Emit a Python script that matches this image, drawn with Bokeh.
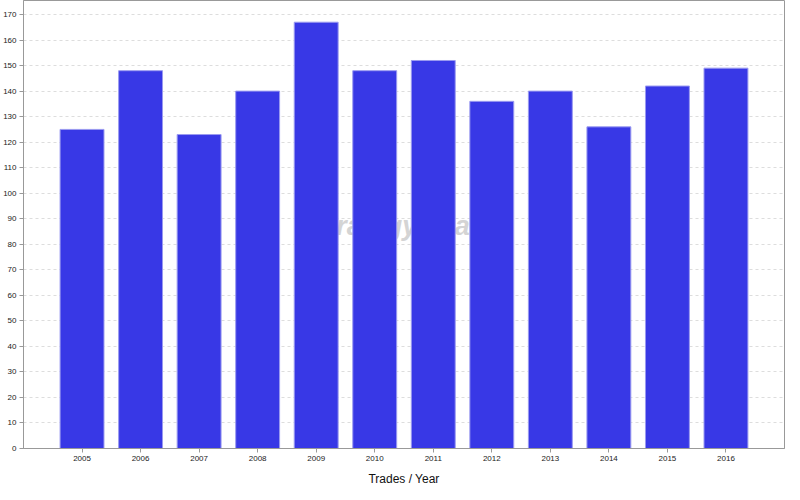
from bokeh.plotting import figure
from bokeh.models import FixedTicker, Range1d, ColumnDataSource, Label
from bokeh.embed import file_html
from bokeh.resources import INLINE

years = ["2005", "2006", "2007", "2008", "2009", "2010", "2011", "2012", "2013", "2014", "2015", "2016"]
trades = [125, 148, 123, 140, 167, 148, 152, 136, 140, 126, 142, 149]
positions = list(range(1, len(years) + 1))
y_ticks = list(range(0, 171, 10))

p = figure(width=785, height=490, output_backend="svg", toolbar_location=None,
           x_range=Range1d(0, len(years) + 1), y_range=Range1d(0, 175.5),
           min_border_left=22, min_border_right=1, min_border_top=0, min_border_bottom=42)

p.add_layout(Label(x=6.47, y=87, text="StrategyQuant", text_font="Liberation Sans",
                   text_font_size="27px", text_font_style="bold italic", text_color="#d4d4d4",
                   text_align="center", text_baseline="middle", level="underlay"))

src = ColumnDataSource(dict(x=positions, top=trades))
p.vbar(x="x", top="top", width=0.75, bottom=0, source=src,
       fill_color="#3838e6", line_color="#9a9af0", line_width=1)

p.xaxis.ticker = FixedTicker(ticks=positions)
p.xaxis.major_label_overrides = {pos: y for pos, y in zip(positions, years)}
p.yaxis.ticker = FixedTicker(ticks=y_ticks)

for ax in (p.xaxis, p.yaxis):
    ax.axis_line_color = "#999999"
    ax.major_tick_line_color = "#999999"
    ax.major_tick_out = 4
    ax.major_tick_in = 0
    ax.minor_tick_line_color = None
    ax.major_label_text_font = "Liberation Sans"
    ax.major_label_text_font_size = "8px"
    ax.major_label_text_color = "#222222"
    ax.major_label_standoff = 3

p.xaxis.axis_label = "Trades / Year"
p.xaxis.axis_label_text_font = "Liberation Sans"
p.xaxis.axis_label_text_font_size = "12px"
p.xaxis.axis_label_text_font_style = "normal"
p.xaxis.axis_label_text_color = "#111111"
p.xaxis.axis_label_standoff = 8

p.xgrid.grid_line_color = None
p.ygrid.grid_line_color = "#dddddd"
p.ygrid.grid_line_dash = "3 3"

p.outline_line_color = "#999999"
p.outline_line_width = 1
p.background_fill_color = "white"
p.border_fill_color = "white"

open("out.html", "w").write(file_html(p, INLINE))
